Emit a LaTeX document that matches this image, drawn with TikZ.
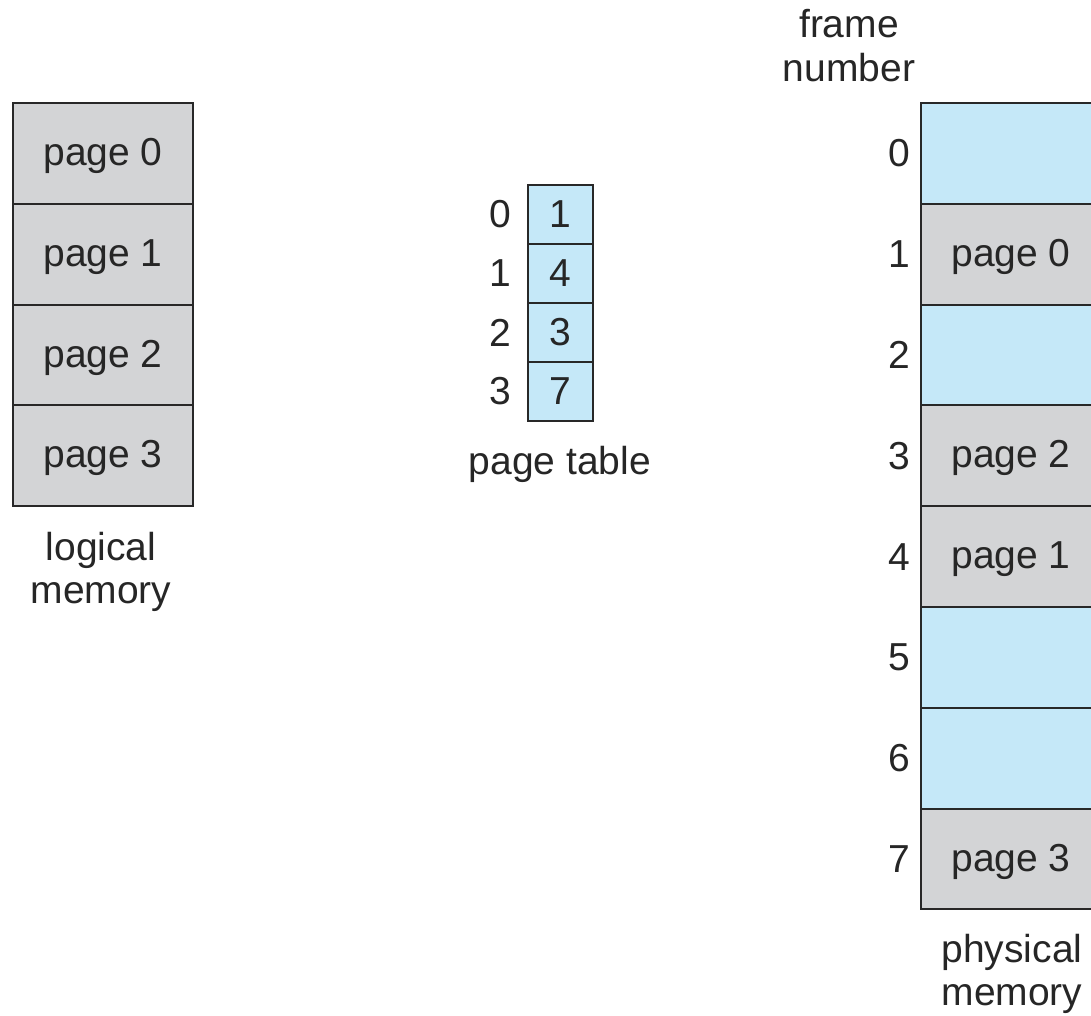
\documentclass[tikz,border=0pt]{standalone}
\usepackage{fontspec}
\setmainfont{Liberation Sans}
\usepackage{tikz}

\definecolor{pagegray}{RGB}{211,212,214}
\definecolor{frameblue}{RGB}{197,232,248}
\definecolor{edge}{RGB}{40,40,40}

\tikzset{
 cell/.style={draw=edge,line width=2pt,inner sep=0pt,outer sep=0pt,minimum width=180pt,minimum height=100.8pt,text height=28pt,text depth=4pt},
 used/.style={cell,fill=pagegray},
 free/.style={cell,fill=frameblue},
 entry/.style={draw=edge,line width=2pt,fill=frameblue,inner sep=0pt,outer sep=0pt,minimum width=65pt,minimum height=59pt},
 lbl/.style={font=\fontsize{39}{44}\selectfont,text=black!85,inner sep=0pt},
 two/.style={align=center,anchor=base}
}

\begin{document}
\begin{tikzpicture}[x=1pt,y=-1pt,every node/.style={lbl}]
 \useasboundingbox[fill=white] (0,0) rectangle (1091,1016);
 % logical memory
 \node[used] (l0) at (103,153.4) {page 0};
 \node[used] (l1) at (103,254.2) {page 1};
 \node[used] (l2) at (103,355.0) {page 2};
 \node[used] (l3) at (103,455.8) {page 3};
 \node[two,font=\fontsize{39}{43}\selectfont] (lname) at (101,603) {logical\\memory};
 % page table
 \node[entry] (t0) at (560,214.5) {1};
 \node[entry] (t1) at (560,273.5) {4};
 \node[entry] (t2) at (560,332.5) {3};
 \node[entry] (t3) at (560,391.5) {7};
 \node[anchor=east] (i0) at (511,214.5) {0};
 \node[anchor=east] (i1) at (511,273.5) {1};
 \node[anchor=east] (i2) at (511,332.5) {2};
 \node[anchor=east] (i3) at (511,391.5) {3};
 \node[anchor=base] (tname) at (560,474) {page table};
 % physical memory
 \node[free] (f0) at (1011,153.4) {};
 \node[used] (f1) at (1011,254.2) {page 0};
 \node[free] (f2) at (1011,355.0) {};
 \node[used] (f3) at (1011,455.8) {page 2};
 \node[used] (f4) at (1011,556.6) {page 1};
 \node[free] (f5) at (1011,657.4) {};
 \node[free] (f6) at (1011,758.2) {};
 \node[used] (f7) at (1011,859.0) {page 3};
 \node[anchor=east,xshift=-11pt] (n0) at (f0.west) {0};
 \node[anchor=east,xshift=-11pt] (n1) at (f1.west) {1};
 \node[anchor=east,xshift=-11pt] (n2) at (f2.west) {2};
 \node[anchor=east,xshift=-11pt] (n3) at (f3.west) {3};
 \node[anchor=east,xshift=-11pt] (n4) at (f4.west) {4};
 \node[anchor=east,xshift=-11pt] (n5) at (f5.west) {5};
 \node[anchor=east,xshift=-11pt] (n6) at (f6.west) {6};
 \node[anchor=east,xshift=-11pt] (n7) at (f7.west) {7};
 \node[two] (fname) at (849,82) {frame\\number};
 \node[two,font=\fontsize{39}{43}\selectfont] (pname) at (1012,1005) {physical\\memory};
\end{tikzpicture}
\end{document}
